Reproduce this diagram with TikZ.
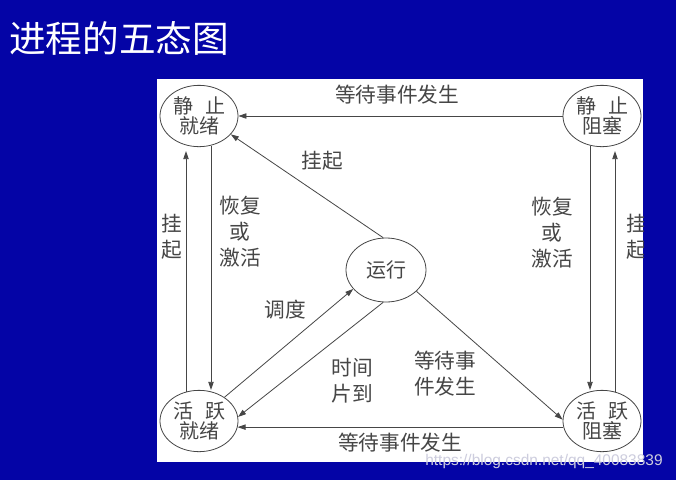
\documentclass[tikz,border=0pt]{standalone}
\usepackage{fontspec}
\newfontfamily\cjk{Noto Sans CJK SC}
\setsansfont{Liberation Sans}
\usetikzlibrary{shapes.geometric,arrows.meta,calc}
\definecolor{slidebg}{RGB}{4,4,166}
\definecolor{inkgray}{RGB}{70,70,70}
\definecolor{markgray}{RGB}{205,205,222}

\begin{document}
\begin{tikzpicture}[x=0.75pt,y=-0.75pt,
  state/.style={ellipse,draw=inkgray,line width=0.6pt,fill=white,minimum width=58.5pt,minimum height=46pt,inner sep=0pt,align=center,text=inkgray,font=\cjk\fontsize{15}{15.5}\selectfont},
  lbl/.style={text=inkgray,align=center,inner sep=0pt,font=\cjk\fontsize{15.5}{19.5}\selectfont},
  trans/.style={draw=inkgray,line width=0.6pt,-{Triangle[length=6pt,width=4pt]}}]
  \useasboundingbox (0,0) rectangle (676,480);
  \fill[slidebg] (0,0) rectangle (676,480); \fill[white] (157,79) rectangle (643,462);
  \node[anchor=west,inner sep=0pt,text=white,font=\cjk\fontsize{27.5}{27.5}\selectfont] (title) at (9,38) {进程的五态图};
  \begin{scope}
    \clip (157,79) rectangle (643,462);
    \node[state] (jzjx) at (199,116) {静\hspace{0.6em}止\\就绪}; \node[state] (jzzs) at (602,116) {静\hspace{0.6em}止\\阻塞};
    \node[state,minimum width=60pt,minimum height=48pt] (yx) at (386,270) {运行};
    \node[state] (hyjx) at (199,421) {活\hspace{0.6em}跃\\就绪}; \node[state] (hyzs) at (602,421) {活\hspace{0.6em}跃\\阻塞};
    \draw[trans] (jzzs.west) -- (jzjx.east); \draw[trans] (hyzs.189) -- (hyjx.-9);
    \draw[trans] ($(hyjx.north)+(-13,2)$) -- ($(jzjx.south)+(-13,4)$); \draw[trans] ($(jzjx.south)+(12,-1)$) -- ($(hyjx.north)+(12,0)$);
    \draw[trans] ($(jzzs.south)+(-12,-1)$) -- ($(hyzs.north)+(-12,0)$); \draw[trans] ($(hyzs.north)+(13,2)$) -- ($(jzzs.south)+(13,4)$);
    \draw[trans] (yx.95) -- (jzjx.-30); \draw[trans] (hyjx.43) -- (yx.210);
    \draw[trans] (yx.-95) -- (hyjx.6); \draw[trans] (yx.-35) -- (hyzs.178);
    \node[lbl] (waittop) at (397,95) {等待事件发生}; \node[lbl] (suspyx) at (322,161) {挂起};
    \node[lbl] (suspl) at (172,237) {挂\\起}; \node[lbl] (actl) at (240,232) {恢复\\或\\激活};
    \node[lbl] (actr) at (552,233) {恢复\\或\\激活}; \node[lbl] (suspr) at (637,237) {挂\\起};
    \node[lbl] (sched) at (285,310) {调度}; \node[lbl] (slice) at (352,381) {时间\\片到};
    \node[lbl] (waitmid) at (445,374) {等待事\\件发生}; \node[lbl] (waitbot) at (400,443) {等待事件发生};
  \end{scope}
  \node[inner sep=0pt,text=markgray,font=\sffamily\fontsize{11.6}{13}\selectfont] (mark) at (544,461) {https://blog.csdn.net/qq\_40083839};
\end{tikzpicture}
\end{document}
